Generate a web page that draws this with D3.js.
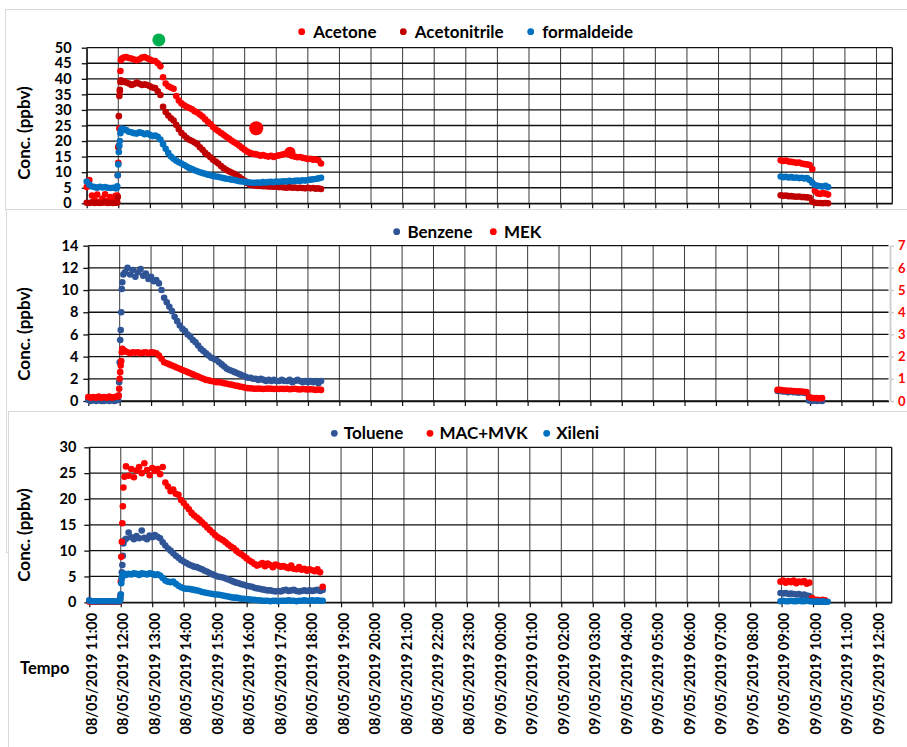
<!DOCTYPE html>
<html>
<head>
<meta charset="utf-8">
<script src="https://cdn.jsdelivr.net/npm/d3@7"></script>
<style>
  body { margin: 0; background: #fff; }
  svg { display: block; }
  text { font-family: Lato, "Open Sans", sans-serif; font-weight: 700; }
</style>
</head>
<body>
<svg id="chart" width="907" height="747"></svg>
<script>
// ---- sampling times, minutes after 08/05/2019 11:00 ----
const startTime = new Date(2019, 4, 8, 11, 0);
const endTime = new Date(2019, 4, 9, 12, 30);

const minutesDay1 = [
  0, 5, 10, 15, 20, 25, 30, 35, 40, 45, 50, 55,
  57, 58, 59, 60, 61, 62, 63, 64, 65, 67,
  70, 75, 80, 85, 90, 95, 100, 105, 110, 115, 120, 125,
  130, 135, 140, 145, 150, 155, 160, 165, 170, 175, 180, 185,
  190, 195, 200, 205, 210, 215, 220, 225, 230, 235, 240, 245,
  250, 255, 260, 265, 270, 275, 280, 285, 290, 295, 300, 305,
  310, 315, 320, 325, 330, 335, 340, 345, 350, 355, 360, 365,
  370, 375, 380, 385, 390, 395, 400, 405, 410, 415, 420, 425,
  430, 435, 440, 445
];
const minutesDay2 = [1318, 1323, 1328, 1333, 1338, 1343, 1348, 1353, 1358, 1363,
  1368, 1373, 1378, 1383, 1388, 1393, 1398, 1403, 1408];

// ---- panel 1: Acetone, Acetonitrile, formaldeide (ppbv) ----
const acetoneDay1 = [
  5.2, 7.5, 2.5, 1.0, 2.8, 0.5, 1.5, 2.9, 0.8, 2.0, 1.2, 2.4,
  1.5, 2.5, 9.0, 13.0, 18.5, 24.0, 36.0, 42.5, 46.0, 46.5,
  46.8, 47.0, 46.7, 46.5, 46.2, 46.0, 46.3, 46.8, 47.0, 46.6, 46.2, 45.8,
  45.7, 45.0, 44.0, 40.5, 38.5, 37.6, 37.2, 36.8, 34.5, 33.0, 32.1, 31.5,
  31.0, 30.6, 30.2, 29.6, 29.2, 28.5, 27.9, 27.0, 26.2, 25.5, 24.5, 23.8,
  23.2, 22.6, 22.0, 21.4, 20.8, 20.2, 19.6, 19.1, 18.5, 17.8, 17.2, 16.6,
  16.2, 15.9, 15.8, 15.6, 15.3, 15.5, 15.2, 15.0, 15.3, 14.9, 15.2, 15.4,
  15.6, 15.8, 16.0, 15.6, 15.2, 15.0, 14.8, 14.9, 14.6, 14.5, 14.2, 14.3,
  14.0, 14.1, 13.8, 12.8
];
const acetoneDay2 = [13.8, 13.6, 13.7, 13.4, 13.3, 13.2, 13.0, 13.1, 12.8, 12.6,
  12.5, 12.3, 11.0, 4.0, 3.2, 3.0, 3.3, 3.1, 2.8];

const acetonitrileDay1 = [
  0.2, 0.1, 0.3, 0.1, 0.2, 0.1, 0.2, 0.3, 0.1, 0.2, 0.1, 0.2,
  0.2, 0.3, 2.0, 18.0, 28.0, 34.5, 36.5, 39.0, 39.5, 39.0,
  39.2, 38.8, 38.5, 38.0, 38.3, 38.8, 38.4, 38.0, 38.2, 38.0, 37.6, 37.2,
  37.0, 36.0, 34.8, 31.0, 29.3, 28.2, 27.3, 26.6, 25.2, 23.8, 22.6, 21.8,
  21.0, 20.4, 20.0, 19.5, 19.0, 18.0, 17.2, 16.2, 15.5, 14.8, 14.0, 13.4,
  12.8, 12.0, 11.3, 10.8, 10.3, 9.9, 9.5, 9.0, 8.4, 7.8, 7.2, 6.5,
  6.0, 5.8, 5.7, 5.6, 5.6, 5.5, 5.5, 5.4, 5.4, 5.3, 5.4, 5.2,
  5.2, 5.1, 5.0, 5.2, 5.0, 5.1, 4.9, 5.0, 4.9, 4.8, 5.0, 4.8,
  4.9, 4.7, 4.8, 4.6
];
const acetonitrileDay2 = [2.6, 2.4, 2.5, 2.3, 2.3, 2.2, 2.1, 2.2, 2.0, 2.0,
  1.9, 1.8, 0.5, 0.2, 0.1, 0.1, 0.0, 0.1, 0.0];

const formaldeideDay1 = [
  7.0, 6.0, 5.4, 5.2, 5.0, 5.3, 5.1, 5.2, 5.0, 4.9, 5.0, 4.8,
  4.9, 5.5, 9.0, 12.5, 16.5, 18.5, 20.0, 22.5, 23.6, 24.0,
  23.8, 23.5, 23.0, 22.8, 22.5, 22.4, 22.8, 22.6, 22.2, 22.5, 22.0, 21.6,
  21.8, 21.4, 20.5, 19.0, 17.5, 16.2, 15.0, 14.3, 13.7, 13.2, 12.8, 12.3,
  11.8, 11.3, 11.0, 10.6, 10.3, 10.0, 9.7, 9.5, 9.2, 9.0, 8.8, 8.6,
  8.5, 8.3, 8.1, 7.9, 7.8, 7.6, 7.5, 7.3, 7.1, 7.0, 6.9, 6.8,
  6.7, 6.6, 6.6, 6.7, 6.6, 6.8, 6.7, 6.8, 6.9, 6.8, 7.0, 6.9,
  7.0, 7.1, 7.0, 7.2, 7.1, 7.2, 7.3, 7.2, 7.4, 7.3, 7.5, 7.6,
  7.7, 7.8, 8.0, 8.2
];
const formaldeideDay2 = [8.6, 8.4, 8.5, 8.3, 8.4, 8.2, 8.3, 8.1, 8.2, 8.0,
  8.1, 7.5, 6.6, 5.9, 5.6, 5.5, 5.4, 5.6, 5.2];

// ---- panel 2: Benzene (left axis), MEK (right axis) ----
const benzeneDay1 = [
  0.1, 0.0, 0.1, 0.0, 0.1, 0.0, 0.0, 0.1, 0.0, 0.1, 0.0, 0.1,
  0.1, 0.5, 1.7, 3.5, 5.5, 6.4, 8.0, 10.1, 10.7, 11.4,
  11.6, 12.0, 11.4, 11.8, 11.2, 11.6, 11.9, 11.3, 11.5, 11.0, 11.2, 10.8,
  10.9, 10.6, 10.0, 9.3, 8.9, 8.5, 8.1, 7.6, 7.2, 6.8, 6.5, 6.3,
  6.0, 5.8, 5.5, 5.3, 5.0, 4.7, 4.5, 4.3, 4.1, 3.9, 3.8, 3.7,
  3.5, 3.3, 3.1, 2.9, 2.8, 2.7, 2.6, 2.5, 2.4, 2.3, 2.2, 2.1,
  2.1, 2.0, 2.0, 1.9, 2.0, 1.9, 1.8, 1.9, 1.8, 1.9, 1.8, 1.8,
  1.9, 1.8, 1.8, 1.9, 1.7, 1.8, 1.9, 1.8, 1.7, 1.8, 1.7, 1.8,
  1.7, 1.8, 1.6, 1.8
];
const benzeneDay2 = [0.9, 0.9, 0.85, 0.85, 0.8, 0.85, 0.8, 0.8, 0.75, 0.8,
  0.75, 0.7, 0.05, 0.0, 0.05, 0.0, 0.05, 0.0, null];

const mekDay1 = [
  0.18, 0.15, 0.18, 0.15, 0.2, 0.15, 0.18, 0.15, 0.2, 0.15, 0.18, 0.2,
  0.2, 0.25, 0.55, 1.0, 1.3, 1.6, 1.8, 2.2, 2.35, 2.3,
  2.25, 2.2, 2.15, 2.2, 2.18, 2.2, 2.15, 2.18, 2.2, 2.15, 2.2, 2.18,
  2.15, 2.05, 1.9, 1.75, 1.7, 1.65, 1.6, 1.55, 1.5, 1.45, 1.4, 1.35,
  1.3, 1.25, 1.2, 1.15, 1.1, 1.05, 1.0, 0.95, 0.93, 0.9, 0.88, 0.85,
  0.85, 0.83, 0.8, 0.78, 0.75, 0.73, 0.7, 0.68, 0.65, 0.63, 0.6, 0.58,
  0.57, 0.56, 0.55, 0.56, 0.55, 0.54, 0.55, 0.56, 0.55, 0.54, 0.55, 0.54,
  0.55, 0.54, 0.55, 0.53, 0.54, 0.55, 0.53, 0.52, 0.54, 0.53, 0.52, 0.53,
  0.52, 0.5, 0.52, 0.5
];
const mekDay2 = [0.5, 0.5, 0.48, 0.47, 0.46, 0.46, 0.45, 0.44, 0.44, 0.43,
  0.42, 0.4, 0.18, 0.14, 0.13, 0.13, 0.12, 0.13, null];

// ---- panel 3: Toluene, MAC+MVK, Xileni (ppbv) ----
const tolueneDay1 = [
  0.4, 0.2, 0.1, 0.1, 0.1, 0.1, 0.1, 0.1, 0.1, 0.1, 0.1, 0.1,
  0.1, 0.2, 0.5, 1.5, 4.3, 5.8, 7.2, 9.0, 11.4, 12.0,
  12.3, 13.5, 12.6, 12.2, 12.8, 12.4, 13.9, 12.5, 12.2, 12.9, 12.6, 13.0,
  12.7, 12.4, 11.6, 11.0, 10.4, 10.0, 9.5, 9.0, 8.6, 8.2, 7.9, 7.6,
  7.3, 7.1, 6.9, 6.8, 6.6, 6.4, 6.1, 5.9, 5.6, 5.4, 5.2, 5.0,
  4.9, 4.8, 4.6, 4.4, 4.2, 4.0, 3.8, 3.7, 3.5, 3.4, 3.2, 3.1,
  3.0, 2.8, 2.7, 2.6, 2.5, 2.4, 2.3, 2.3, 2.2, 2.1, 2.2, 2.1,
  2.3, 2.4, 2.2, 2.3, 2.4, 2.2, 2.1, 2.2, 2.3, 2.2, 2.3, 2.2,
  2.3, 2.4, 2.2, 2.4
];
const tolueneDay2 = [1.8, 1.7, 1.8, 1.6, 1.7, 1.6, 1.5, 1.6, 1.4, 1.5,
  1.3, 1.2, 0.2, 0.1, 0.1, 0.1, 0.1, 0.1, null];

const macMvkDay1 = [
  0.1, 0.1, 0.1, 0.1, 0.1, 0.1, 0.1, 0.1, 0.1, 0.1, 0.1, 0.1,
  0.1, 0.2, 1.0, 4.0, 8.8, 11.7, 15.3, 18.6, 22.2, 24.3,
  26.3, 24.5, 25.8, 24.2, 25.5, 26.2, 25.0, 26.9, 25.6, 24.6, 26.0, 25.4,
  25.8, 24.8, 26.2, 23.2, 22.4, 21.5, 21.8, 21.0, 20.8, 19.8, 19.2, 18.6,
  18.0, 17.3, 16.8, 16.4, 16.0, 15.5, 15.0, 14.5, 14.0, 13.5, 13.0, 12.6,
  12.3, 12.0, 11.6, 11.2, 10.8, 10.5, 10.0, 9.6, 9.3, 8.9, 8.5, 8.1,
  7.8, 7.4, 7.1, 7.3, 7.6, 7.0, 7.5, 7.2, 6.8, 7.3, 7.1, 6.9,
  7.0, 6.8, 6.6, 7.1, 6.5, 6.4, 6.8, 6.3, 6.5, 6.1, 6.4, 6.2,
  6.0, 6.4, 5.8, 3.0
];
const macMvkDay2 = [4.0, 4.2, 3.8, 4.1, 3.9, 4.2, 3.7, 4.0, 3.9, 4.1,
  3.6, 3.8, 0.8, 0.5, 0.5, 0.4, 0.5, 0.4, null];

const xileniDay1 = [
  0.3, 0.2, 0.2, 0.2, 0.2, 0.2, 0.2, 0.2, 0.2, 0.2, 0.2, 0.2,
  0.2, 0.3, 0.8, 1.5, 3.7, 4.6, 5.0, 5.3, 5.4, 5.5,
  5.3, 5.5, 5.4, 5.6, 5.5, 5.3, 5.6, 5.5, 5.4, 5.6, 5.5, 5.3,
  5.4, 5.2, 4.7, 4.2, 4.0, 3.9, 4.0, 3.6, 3.2, 2.9, 2.7, 2.6,
  2.6, 2.5, 2.4, 2.3, 2.2, 2.0, 1.9, 1.8, 1.7, 1.6, 1.5, 1.5,
  1.4, 1.3, 1.2, 1.1, 1.0, 0.9, 0.9, 0.8, 0.7, 0.7, 0.6, 0.6,
  0.5, 0.5, 0.4, 0.4, 0.3, 0.3, 0.3, 0.2, 0.3, 0.3, 0.2, 0.3,
  0.3, 0.3, 0.4, 0.3, 0.3, 0.2, 0.3, 0.3, 0.4, 0.3, 0.3, 0.4,
  0.3, 0.4, 0.3, 0.3
];
const xileniDay2 = [0.2, 0.3, 0.2, 0.2, 0.3, 0.2, 0.2, 0.3, 0.2, 0.2,
  0.3, 0.2, 0.2, 0.1, 0.2, 0.1, 0.2, 0.1, 0.1];

// ---- axis ticks ----
const yTicks1 = [0, 5, 10, 15, 20, 25, 30, 35, 40, 45, 50];
const yTicks2 = [0, 2, 4, 6, 8, 10, 12, 14];
const yTicks2Right = [0, 1, 2, 3, 4, 5, 6, 7];
const yTicks3 = [0, 5, 10, 15, 20, 25, 30];

// ---- highlight circles drawn over panel 1 (minutes, ppbv) ----
const highlightMinutes = [137, 322, 386];
const highlightValues = [52.5, 24.1, 16.4];

// ---------------------------------------------------------------
const svg = d3.select("#chart");
const toDate = m => d3.timeMinute.offset(startTime, m);
const hourTicks = d3.timeHour.range(startTime, endTime);
const fmt = d3.timeFormat("%d/%m/%Y %H:%M");
const intFmt = d3.format("d");

const RED = "#FF0000", DARKRED = "#C00000", BLUE = "#0070C0", NAVY = "#2F5597";

function drawPanel(cfg) {
  const g = svg.append("g");
  g.append("rect")
    .attr("x", cfg.frame[0]).attr("y", cfg.frame[1])
    .attr("width", cfg.frame[2]).attr("height", cfg.frame[3])
    .attr("fill", "#fff").attr("stroke", "#d9d9d9").attr("stroke-width", 1);

  const x = d3.scaleTime([startTime, endTime], [cfg.left, cfg.right]);
  const y = d3.scaleLinear([0, cfg.yTicks[cfg.yTicks.length - 1]], [cfg.bottom, cfg.top]);

  // vertical gridlines, one per hour
  g.append("g").selectAll("line").data(hourTicks).join("line")
    .attr("x1", d => x(d)).attr("x2", d => x(d))
    .attr("y1", cfg.top).attr("y2", cfg.bottom)
    .attr("stroke", "#3a3a3a").attr("stroke-width", 1);

  // horizontal gridlines
  g.append("g").selectAll("line").data(cfg.yTicks).join("line")
    .attr("x1", cfg.left).attr("x2", cfg.right)
    .attr("y1", d => y(d)).attr("y2", d => y(d))
    .attr("stroke", "#111").attr("stroke-width", 1.3);

  // right border
  if (!cfg.rightAxis) {
    g.append("line").attr("x1", cfg.right).attr("x2", cfg.right)
      .attr("y1", cfg.top).attr("y2", cfg.bottom)
      .attr("stroke", "#111").attr("stroke-width", 1.3);
  }

  // left axis
  const ya = g.append("g").attr("transform", `translate(${cfg.left},0)`)
    .call(d3.axisLeft(y).tickValues(cfg.yTicks).tickFormat(intFmt)
      .tickSizeInner(5).tickSizeOuter(0).tickPadding(cfg.labelPad));
  ya.select(".domain").attr("stroke", "#111").attr("stroke-width", 1.3);
  ya.selectAll(".tick line").attr("stroke", "#111").attr("stroke-width", 1.3);
  ya.selectAll(".tick text").attr("fill", "#000").style("font-size", "14.5px")
    .style("font-family", "Lato").style("font-weight", 700);

  // bottom axis
  const xa = g.append("g").attr("transform", `translate(0,${cfg.bottom})`)
    .call(d3.axisBottom(x).tickValues(hourTicks).tickSizeInner(5).tickSizeOuter(0)
      .tickFormat(cfg.showTimeLabels ? fmt : ""));
  xa.select(".domain").attr("stroke", "#111").attr("stroke-width", 1.3);
  xa.selectAll(".tick line").attr("stroke", "#111").attr("stroke-width", 1.2);
  if (cfg.showTimeLabels) {
    xa.selectAll(".tick text")
      .attr("transform", "rotate(-90)")
      .attr("text-anchor", "end")
      .attr("x", -10.5).attr("y", 2).attr("dy", "0.35em")
      .attr("fill", "#000").style("font-size", "14.5px")
      .style("font-family", "Lato").style("font-weight", 700);
  }

  // secondary axis (right)
  let yR = null;
  if (cfg.rightAxis) {
    yR = d3.scaleLinear([0, cfg.rightAxis[cfg.rightAxis.length - 1]], [cfg.bottom, cfg.top]);
    const ra = g.append("g").attr("transform", `translate(${cfg.right + 1.5},0)`)
      .call(d3.axisRight(yR).tickValues(cfg.rightAxis).tickFormat(intFmt)
        .tickSizeInner(4).tickSizeOuter(0).tickPadding(4));
    ra.select(".domain").attr("stroke", "#d0d0d0").attr("stroke-width", 2);
    ra.selectAll(".tick line").attr("stroke", "#d0d0d0").attr("stroke-width", 1.5);
    ra.selectAll(".tick text").attr("fill", RED).style("font-size", "13px")
      .style("font-family", "Lato").style("font-weight", 700);
  }

  // axis title
  g.append("text")
    .attr("transform", `translate(${cfg.titleX},${cfg.titleY}) rotate(-90)`)
    .attr("text-anchor", "middle")
    .style("font-size", "17px")
    .text("Conc. (ppbv)");

  // data points
  cfg.series.forEach(s => {
    const ys = s.right ? yR : y;
    [[minutesDay1, s.day1], [minutesDay2, s.day2]].forEach(([times, vals]) => {
      const pts = times.map((m, i) => ({ t: toDate(m), v: vals[i] })).filter(d => d.v != null);
      g.append("g").selectAll("circle").data(pts).join("circle")
        .attr("cx", d => x(d.t)).attr("cy", d => ys(d.v))
        .attr("r", 3.3).attr("fill", s.color);
    });
  });

  // legend
  const lg = g.append("g");
  cfg.series.forEach((s, i) => {
    lg.append("circle").attr("cx", cfg.legendX[i]).attr("cy", cfg.legendY)
      .attr("r", 3.4).attr("fill", s.color);
    lg.append("text").attr("x", cfg.legendX[i] + cfg.legendGap).attr("y", cfg.legendY)
      .attr("dy", "0.36em").style("font-size", "17px").attr("fill", "#000")
      .text(s.name);
  });

  return { x, y };
}

const p1 = drawPanel({
  frame: [5.5, 9.5, 920, 200],
  left: 86.7, right: 892.3, top: 47.7, bottom: 203.3,
  yTicks: yTicks1, labelPad: 10,
  titleX: 30, titleY: 133,
  legendX: [301.7, 403.3, 530.7], legendY: 31.7, legendGap: 11.5,
  series: [
    { name: "Acetone", color: RED, day1: acetoneDay1, day2: acetoneDay2 },
    { name: "Acetonitrile", color: DARKRED, day1: acetonitrileDay1, day2: acetonitrileDay2 },
    { name: "formaldeide", color: BLUE, day1: formaldeideDay1, day2: formaldeideDay2 }
  ]
});

// highlight circles on panel 1
const hlColors = ["#00B050", RED, RED];
const hlRadius = [6.5, 7, 5.5];
svg.append("g").selectAll("circle").data(highlightMinutes).join("circle")
  .attr("cx", d => p1.x(toDate(d)))
  .attr("cy", (d, i) => p1.y(highlightValues[i]))
  .attr("r", (d, i) => hlRadius[i])
  .attr("fill", (d, i) => hlColors[i]);

drawPanel({
  frame: [6.5, 209.5, 920, 343],
  left: 88.3, right: 888.5, top: 245.7, bottom: 401,
  yTicks: yTicks2, labelPad: 5, rightAxis: yTicks2Right,
  titleX: 30, titleY: 334,
  legendX: [396.7, 493.3], legendY: 231.7, legendGap: 10.7,
  series: [
    { name: "Benzene", color: NAVY, day1: benzeneDay1, day2: benzeneDay2 },
    { name: "MEK", color: RED, day1: mekDay1, day2: mekDay2, right: true }
  ]
});

drawPanel({
  frame: [8.5, 411.5, 920, 340],
  left: 89.3, right: 891.7, top: 447.3, bottom: 602.3,
  yTicks: yTicks3, labelPad: 8, showTimeLabels: true,
  titleX: 30, titleY: 535,
  legendX: [334.3, 430, 546.7], legendY: 433.3, legendGap: 9.5,
  series: [
    { name: "Toluene", color: NAVY, day1: tolueneDay1, day2: tolueneDay2 },
    { name: "MAC+MVK", color: RED, day1: macMvkDay1, day2: macMvkDay2 },
    { name: "Xileni", color: BLUE, day1: xileniDay1, day2: xileniDay2 }
  ]
});

svg.append("text").attr("x", 20).attr("y", 674)
  .style("font-size", "16.5px").text("Tempo");
</script>
</body>
</html>
